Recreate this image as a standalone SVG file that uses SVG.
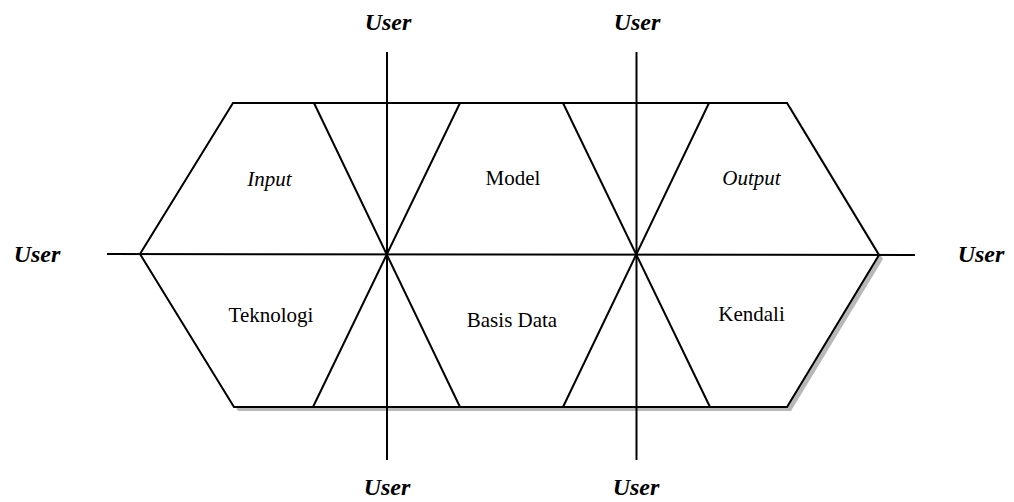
<svg xmlns="http://www.w3.org/2000/svg" width="1014" height="502" viewBox="0 0 1014 502">
  <style>
    .ln { stroke: #000; stroke-width: 2; fill: none; stroke-linecap: butt; }
    .lbl { font-family: 'Liberation Serif', 'Times New Roman', 'DejaVu Serif', serif; font-size: 21px; fill: #000; text-anchor: middle; }
    .it { font-style: italic; }
    .user { font-family: 'Liberation Serif', 'Times New Roman', 'DejaVu Serif', serif; font-size: 24px; font-weight: bold; font-style: italic; fill: #000; text-anchor: middle; }
  </style>
  <rect width="1014" height="502" fill="#fff"/>

  <!-- hexagon frame with soft drop shadow -->
  <g id="frame">
    <polygon points="237,107 791,107 883,259 791,411 238,411 144,258" fill="#b8b8b8"/>
    <polygon class="ln" points="233,103 787,103 879,255 787,407 234,407 140,254" style="fill:#fff"/>
  </g>

  <!-- axes and diagonal dividers -->
  <g id="connectors">
    <line class="ln" x1="107" y1="254" x2="915" y2="255"/>
    <line class="ln" x1="387" y1="52" x2="387" y2="460"/>
    <line class="ln" x1="636.5" y1="52" x2="636.5" y2="460"/>
    <line class="ln" x1="314" y1="103" x2="460" y2="407"/>
    <line class="ln" x1="460" y1="103" x2="313" y2="407"/>
    <line class="ln" x1="563" y1="103" x2="710" y2="407"/>
    <line class="ln" x1="709" y1="103" x2="563" y2="407"/>
  </g>

  <g id="input"><text class="lbl it" x="269.5" y="186">Input</text></g>
  <g id="model"><text class="lbl" x="513" y="185">Model</text></g>
  <g id="output"><text class="lbl it" x="751.5" y="185">Output</text></g>
  <g id="teknologi"><text class="lbl" x="271" y="322">Teknologi</text></g>
  <g id="basis-data"><text class="lbl" x="512" y="327">Basis Data</text></g>
  <g id="kendali"><text class="lbl" x="751.5" y="321">Kendali</text></g>

  <g id="user-top-1"><text class="user" x="388" y="30">User</text></g>
  <g id="user-top-2"><text class="user" x="637" y="30">User</text></g>
  <g id="user-left"><text class="user" x="37" y="262">User</text></g>
  <g id="user-right"><text class="user" x="981" y="262">User</text></g>
  <g id="user-bottom-1"><text class="user" x="387" y="495">User</text></g>
  <g id="user-bottom-2"><text class="user" x="636" y="495">User</text></g>
</svg>
